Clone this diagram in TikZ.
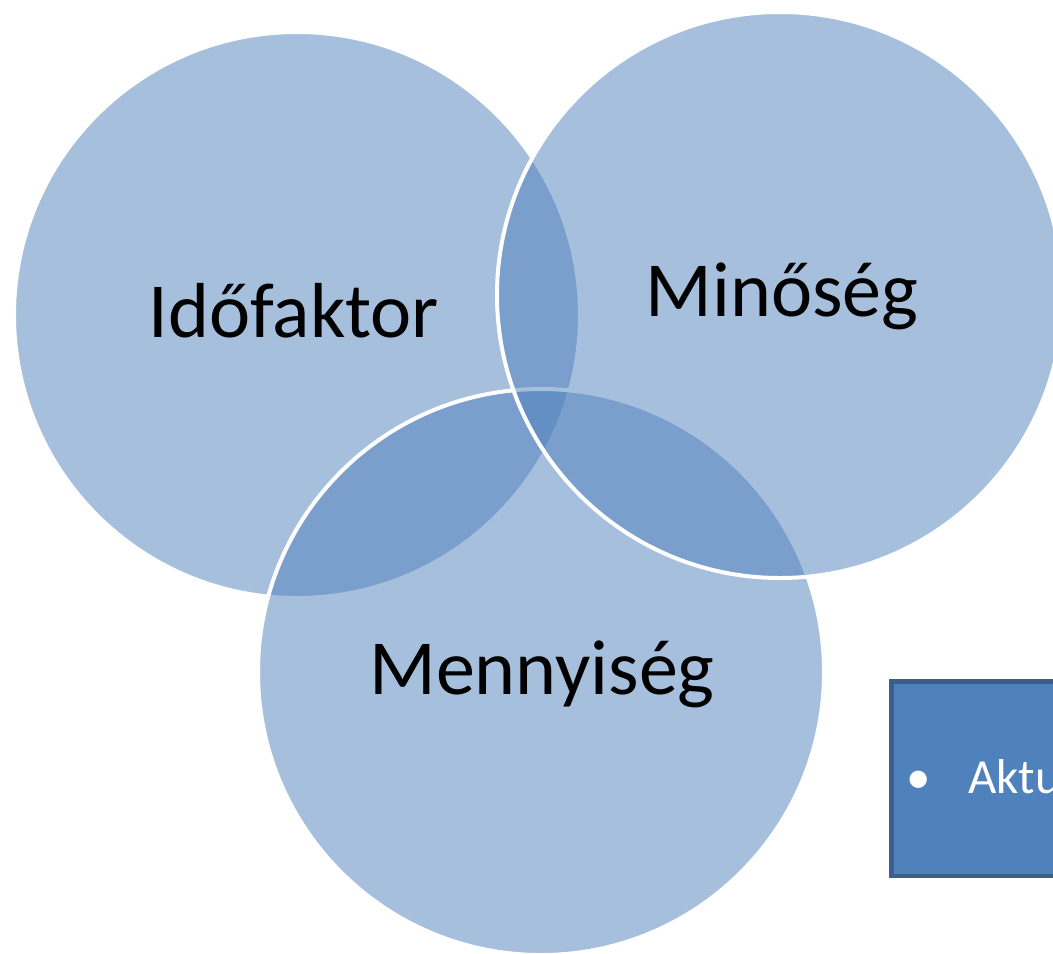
\documentclass[tikz,border=0pt]{standalone}
\usepackage{fontspec}
\setmainfont{Carlito}
\definecolor{vblue}{HTML}{4F81BD}
\definecolor{vedge}{HTML}{3A5F8C}
\tikzset{
  venn/.style={circle, minimum size=566bp, inner sep=0pt, draw=white, line width=4bp, fill=vblue, fill opacity=0.5, draw opacity=1},
  vlabel/.style={anchor=base, text=black, font=\fontsize{78bp}{90bp}\selectfont, inner sep=0pt},
  infobox/.style={draw=vedge, line width=4.5bp, fill=vblue, minimum width=200bp, minimum height=194.5bp, inner sep=0pt},
  boxtext/.style={anchor=base west, text=white, font=\fontsize{49bp}{58bp}\selectfont, inner sep=0pt}
}
\begin{document}
\begin{tikzpicture}[x=1bp,y=-1bp]
\clip (0,0) rectangle (1053,954);
\fill[white] (0,0) rectangle (1053,954);
\node[venn] (ido) at (297,315) {};
\node[venn] (menny) at (541,672) {};
\node[venn] (min) at (780,295) {};
\node[vlabel] (tido) at (294,337) {Időfaktor};
\node[vlabel] (tmin) at (782,316) {Minőség};
\node[vlabel] (tmenny) at (542,694) {Mennyiség};
\node[infobox, anchor=north west] (box) at (889.25,679.25) {};
\node[boxtext] (bull) at (906,793) {\textbullet};
\node[boxtext] (btxt) at (968,793) {Aktu};
\end{tikzpicture}
\end{document}
